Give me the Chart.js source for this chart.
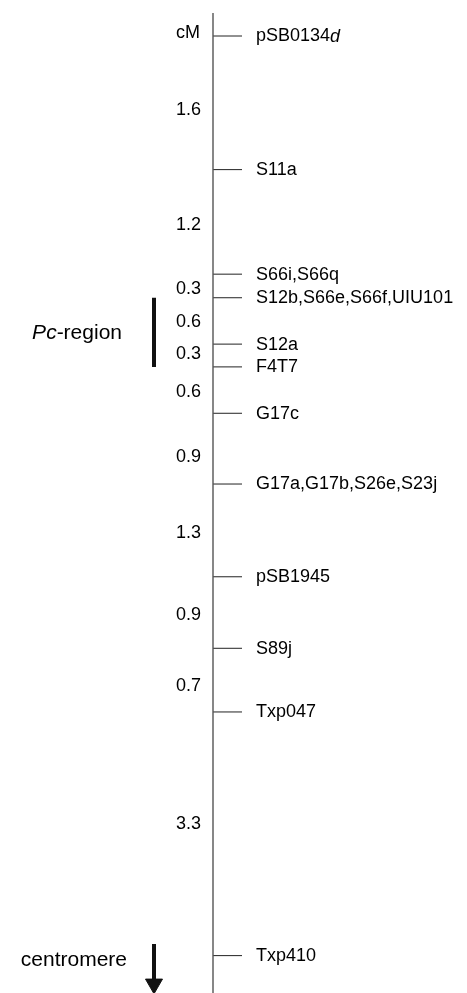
<!DOCTYPE html>
<html>
<head>
<meta charset="utf-8">
<script src="https://cdn.jsdelivr.net/npm/chart.js@4.4.1/dist/chart.umd.min.js"></script>
<style>
	html, body { margin: 0; padding: 0; background: #fff; }
	canvas { display: block; }
</style>
</head>
<body>
<canvas id="map" width="467" height="993"></canvas>
<script>
// marker names, _x_ marks an italic part
const markers = [
	"pSB0134_d_",
	"S11a",
	"S66i,S66q",
	"S12b,S66e,S66f,UIU101",
	"S12a",
	"F4T7",
	"G17c",
	"G17a,G17b,S26e,S23j",
	"pSB1945",
	"S89j",
	"Txp047",
	"Txp410",
];
// map position of each marker (cM, as drawn)
const positions = [0, 1.7, 3.03, 3.33, 3.92, 4.21, 4.8, 5.7, 6.88, 7.79, 8.6, 11.7];
// distance labels between neighbouring markers
const intervals = ["1.6", "1.2", "0.3", "0.6", "0.3", "0.6", "0.9", "1.3", "0.9", "0.7", "3.3"];
// where along the map each distance label sits (cM)
const intervalAt = [0.94, 2.4, 3.22, 3.64, 4.05, 4.53, 5.36, 6.32, 7.37, 8.27, 10.02];
// Pc-region spans these two markers
const pcFrom = 3;
const pcTo = 5;

const PX_PER_CM = 78.6;
const TOP_PX = 36;
const H = 993;
const yMin = -TOP_PX / PX_PER_CM;
const yMax = (H - TOP_PX) / PX_PER_CM;

const AXIS_X = 213;
const TICK_LEN = 29;
const BAR_X = 154;

const FONT = '"Liberation Sans", Arial, Helvetica, sans-serif';

function drawRich(ctx, text, x, y, size, align) {
	const parts = text.split("_");
	const fonts = parts.map((p, i) => (i % 2 ? "italic " : "") + size + "px " + FONT);
	let total = 0;
	parts.forEach((p, i) => {
		ctx.font = fonts[i];
		total += ctx.measureText(p).width;
	});
	let cx = align === "right" ? x - total : x;
	ctx.textAlign = "left";
	parts.forEach((p, i) => {
		ctx.font = fonts[i];
		ctx.fillText(p, cx, y);
		cx += ctx.measureText(p).width;
	});
}

const textPlugin = {
	id: "maptext",
	afterDatasetsDraw(chart) {
		const ctx = chart.ctx;
		const y = chart.scales.y;
		ctx.save();
		ctx.fillStyle = "#000";
		ctx.textBaseline = "middle";
		markers.forEach((m, i) => {
			drawRich(ctx, m, AXIS_X + 43, y.getPixelForValue(positions[i]) + 0.5, 18, "left");
		});
		intervals.forEach((t, i) => {
			drawRich(ctx, t, 201, y.getPixelForValue(intervalAt[i]), 18, "right");
		});
		drawRich(ctx, "cM", 200, y.getPixelForValue(positions[0]) - 3, 18, "right");
		const pcMid = (positions[pcFrom] + positions[pcTo]) / 2;
		drawRich(ctx, "_Pc_-region", 122, y.getPixelForValue(pcMid) + 1, 21, "right");
		drawRich(ctx, "centromere", 127, y.getPixelForValue(positions[11]) + 5, 21, "right");
		ctx.restore();
	},
};

const axisTop = (13 - TOP_PX) / PX_PER_CM;
const arrowTop = (944 - TOP_PX) / PX_PER_CM;
const arrowShaftEnd = (981 - TOP_PX) / PX_PER_CM;
const arrowHead = (984 - TOP_PX) / PX_PER_CM;

new Chart(document.getElementById("map").getContext("2d"), {
	type: "scatter",
	data: {
		datasets: [
			{
				// chromosome line
				data: [{ x: AXIS_X, y: axisTop }, { x: AXIS_X, y: yMax }],
				showLine: true,
				borderColor: "#555",
				borderWidth: 1.4,
				pointRadius: 0,
			},
			{
				// marker ticks
				data: positions.map((p) => ({ x: AXIS_X + TICK_LEN / 2, y: p })),
				pointStyle: "line",
				pointRadius: TICK_LEN / 2,
				borderColor: "#222",
				borderWidth: 1,
				showLine: false,
			},
			{
				// Pc-region bar
				data: [{ x: BAR_X, y: positions[pcFrom] }, { x: BAR_X, y: positions[pcTo] }],
				showLine: true,
				borderColor: "#111",
				borderWidth: 4,
				pointRadius: 0,
			},
			{
				// centromere arrow shaft
				data: [{ x: BAR_X, y: arrowTop }, { x: BAR_X, y: arrowShaftEnd }],
				showLine: true,
				borderColor: "#111",
				borderWidth: 4,
				pointRadius: 0,
			},
			{
				// arrow head
				data: [{ x: BAR_X, y: arrowHead }],
				pointStyle: "triangle",
				rotation: 180,
				pointRadius: 9.8,
				backgroundColor: "#111",
				borderColor: "#111",
				borderWidth: 1,
				showLine: false,
			},
		],
	},
	options: {
		responsive: false,
		animation: false,
		devicePixelRatio: 1,
		layout: { padding: 0, autoPadding: false },
		plugins: {
			legend: { display: false },
			tooltip: { enabled: false },
		},
		scales: {
			x: { type: "linear", min: 0, max: 467, display: false },
			y: { type: "linear", min: yMin, max: yMax, reverse: true, display: false },
		},
	},
	plugins: [textPlugin],
});
</script>
</body>
</html>
